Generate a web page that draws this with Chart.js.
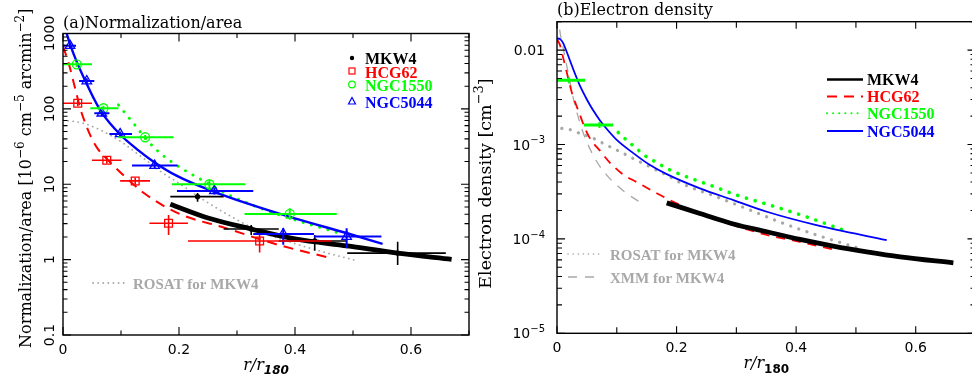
<!DOCTYPE html>
<html>
<head>
<meta charset="utf-8">
<script src="https://cdn.jsdelivr.net/npm/chart.js@4/dist/chart.umd.min.js"></script>
<style>
  html, body { margin: 0; padding: 0; background: #fff; }
  body { width: 972px; height: 383px; overflow: hidden; position: relative; }
  #cA { position: absolute; left: 0; top: 0; }
  #cB { position: absolute; left: 466px; top: 0; }
</style>
</head>
<body>
<canvas id="cA" width="486" height="383"></canvas>
<canvas id="cB" width="520" height="383"></canvas>
<script>
// ===================== DATA =====================
// ---- Panel (a): Normalization / area ----
const aXTicks = [0, 0.2, 0.4, 0.6];
const aXTickLabels = ['0', '0.2', '0.4', '0.6'];
const aYTicks = [0.1, 1, 10, 100, 1000];
const aYTickLabels = ['0.1', '1', '10', '100', '1000'];

// rows: [r/r180, value, rLow, rHigh, valueLow, valueHigh]
const mkw4PointsA = [
  [0.232, 6.85, 0.185, 0.277, 5.88, 7.67],
  [0.3245, 2.55, 0.277, 0.372, 2.12, 2.88],
  [0.434, 1.77, 0.372, 0.49, 1.31, 2.12],
  [0.577, 1.22, 0.49, 0.66, 0.85, 1.73]
];
const hcg62PointsA = [
  [0.0254, 118.6, 0, 0.05, 108, 130],
  [0.0755, 20.8, 0.05, 0.101, 18.8, 23],
  [0.1245, 11.07, 0.0985, 0.15, 10.0, 12.2],
  [0.182, 3.04, 0.149, 0.2155, 2.12, 3.92],
  [0.339, 1.77, 0.2155, 0.463, 1.24, 2.12]
];
const ngc1550PointsA = [
  [0.0237, 390, 0, 0.05, 360, 420],
  [0.0697, 102, 0.047, 0.0956, 95, 110],
  [0.1417, 42, 0.0956, 0.1907, 39, 45],
  [0.2524, 10, 0.188, 0.3146, 8.4, 11.4],
  [0.391, 4.04, 0.313, 0.472, 3.37, 4.8]
];
const ngc5044PointsA = [
  [0.0121, 689, 0, 0.0225, 640, 740],
  [0.041, 234, 0.0277, 0.054, 215, 255],
  [0.0669, 87.5, 0.054, 0.08, 80, 95],
  [0.0985, 46.5, 0.08, 0.119, 43, 50],
  [0.158, 17.7, 0.119, 0.1976, 16.3, 19.2],
  [0.261, 8.15, 0.1965, 0.328, 7.3, 9.0],
  [0.3797, 2.19, 0.328, 0.4327, 1.57, 2.61],
  [0.489, 2.02, 0.4327, 0.549, 1.42, 2.61]
];
// model curves: [r/r180, value]
const mkw4CurveA = [[0.185, 5.43], [0.25, 3.57], [0.3245, 2.55], [0.4, 1.88], [0.49, 1.52], [0.577, 1.22], [0.67, 1.01]];
const hcg62CurveA = [[0, 676], [0.01, 398], [0.02, 200], [0.03, 100], [0.04, 60.3], [0.05, 39.8], [0.06, 29.5], [0.08, 20.0], [0.10, 14.1], [0.14, 7.6], [0.20, 4.07], [0.28, 2.63], [0.37, 1.58], [0.4615, 1.05]];
const ngc1550CurveA = [[0.0956, 112.7], [0.1215, 64.4], [0.1447, 38.7], [0.1677, 25.8], [0.1907, 19.0], [0.2138, 14.7], [0.2368, 11.7], [0.283, 7.4], [0.3405, 4.8], [0.398, 3.4], [0.456, 2.5], [0.476, 2.24]];
const ngc5044CurveA = [[0.0064, 1000], [0.0121, 724], [0.025, 398], [0.041, 214], [0.053, 138], [0.0669, 89], [0.0985, 45.7], [0.13, 28.2], [0.158, 19.5], [0.1965, 12.9], [0.254, 8.3], [0.3175, 5.56], [0.398, 3.55], [0.49, 2.24], [0.551, 1.62]];
const rosatCurveA = [[0, 71], [0.035, 64.4], [0.058, 55.3], [0.081, 45], [0.104, 35], [0.127, 25.8], [0.15, 19], [0.168, 14.8], [0.1965, 10.7], [0.2368, 6.6], [0.283, 4.0], [0.3405, 2.35], [0.398, 1.65], [0.456, 1.22], [0.502, 0.99]];

// ---- Panel (b): Electron density ----
const bXTicks = [0, 0.2, 0.4, 0.6];
const bXTickLabels = ['0', '0.2', '0.4', '0.6'];
const bYTicks = [1e-5, 1e-4, 1e-3, 1e-2];
const bYTickLabels = [['10', '−5'], ['10', '−4'], ['10', '−3'], ['0.01', '']];

const mkw4CurveB = [[0.1835, 2.41e-4], [0.239, 1.86e-4], [0.295, 1.44e-4], [0.351, 1.19e-4], [0.4065, 9.88e-5], [0.462, 8.4e-5], [0.518, 7.3e-5], [0.574, 6.46e-5], [0.663, 5.58e-5]];
const hcg62CurveB = [[0, 0.0130], [0.005, 0.0113], [0.0105, 8.2e-3], [0.0189, 5.0e-3], [0.0245, 3.6e-3], [0.0301, 2.83e-3], [0.0385, 2.05e-3], [0.0469, 1.48e-3], [0.0552, 1.16e-3], [0.0719, 8.6e-4], [0.0887, 6.4e-4], [0.111, 4.8e-4], [0.1333, 4.0e-4], [0.1668, 3.05e-4], [0.1946, 2.47e-4], [0.239, 1.86e-4], [0.295, 1.40e-4], [0.351, 1.10e-4], [0.4065, 9.3e-5], [0.462, 7.74e-5]];
const ngc1550CurveB = [[0.1025, 1.34e-3], [0.1166, 1.11e-3], [0.1276, 9.7e-4], [0.15, 7.4e-4], [0.1639, 6.6e-4], [0.1835, 5.6e-4], [0.2002, 5.0e-4], [0.256, 3.71e-4], [0.3006, 2.91e-4], [0.356, 2.28e-4], [0.4177, 1.71e-4], [0.476, 1.26e-4]];
const ngc5044CurveB = [[0, 0.0133], [0.005, 0.0131], [0.0105, 0.0118], [0.0162, 9.6e-3], [0.0217, 7.76e-3], [0.0301, 5.62e-3], [0.0385, 4.17e-3], [0.0497, 3.02e-3], [0.0607, 2.29e-3], [0.0719, 1.80e-3], [0.0858, 1.40e-3], [0.0999, 1.12e-3], [0.1276, 8.1e-4], [0.1556, 6.05e-4], [0.1835, 4.85e-4], [0.239, 3.43e-4], [0.295, 2.58e-4], [0.351, 1.94e-4], [0.434, 1.40e-4], [0.5515, 9.7e-5]];
const rosatCurveB = [[0.008, 1.48e-3], [0.0217, 1.44e-3], [0.0385, 1.31e-3], [0.0552, 1.21e-3], [0.0719, 1.07e-3], [0.0887, 9.46e-4], [0.1054, 8.4e-4], [0.1276, 7.1e-4], [0.1556, 5.8e-4], [0.1835, 4.74e-4], [0.2113, 3.8e-4], [0.267, 2.79e-4], [0.323, 2.02e-4], [0.3786, 1.46e-4], [0.434, 1.10e-4], [0.501, 8.1e-5]];
const xmmCurveB = [[0.001, 0.025], [0.005, 0.0156], [0.0105, 0.0104], [0.0162, 6.9e-3], [0.0217, 4.6e-3], [0.0273, 3.08e-3], [0.033, 2.22e-3], [0.0413, 1.48e-3], [0.0497, 1.07e-3], [0.0664, 6.6e-4], [0.0831, 4.74e-4], [0.0999, 3.72e-4], [0.1166, 3.03e-4], [0.1472, 2.28e-4]];
// NGC1550 deprojected bins: [r/r180, density, rLow, rHigh]
const ngc1550BinsB = [[0.02, 4.8e-3, 0, 0.047], [0.071, 1.61e-3, 0.045, 0.094]];

// ===================== HELPERS =====================
const SANS = 'DejaVu Sans', SERIF = 'DejaVu Serif', LEG = 'Liberation Serif';
const xy = rows => rows.map(r => ({ x: r[0], y: r[1] }));
const errs = rows => rows.map(r => [r[2], r[3], r[4] ?? null, r[5] ?? null]);

function partFont(p, size, family, style) {
  const s = (p.sup || p.sub) ? Math.round(size * 0.72) : size;
  return `${p.style || style} ${s}px ${p.family || family}`;
}
function drawRich(ctx, parts, x, y, size, family, style, align) {
  let w = 0;
  for (const p of parts) { ctx.font = partFont(p, size, family, style); w += ctx.measureText(p.t).width; }
  let cx = align === 'center' ? x - w / 2 : align === 'right' ? x - w : x;
  ctx.textAlign = 'left'; ctx.textBaseline = 'alphabetic';
  for (const p of parts) {
    ctx.font = partFont(p, size, family, style);
    const dy = p.sup ? -size * 0.45 : p.sub ? size * 0.28 : 0;
    ctx.fillText(p.t, cx, y + dy);
    cx += ctx.measureText(p.t).width;
  }
}

const errorBarsPlugin = {
  id: 'errorBars',
  afterDatasetsDraw(chart) {
    const { ctx, scales: { x, y } } = chart;
    chart.data.datasets.forEach((ds, i) => {
      if (!ds.errorBars || !chart.isDatasetVisible(i)) return;
      ctx.save();
      ctx.strokeStyle = ds.errorColor || ds.borderColor;
      ctx.lineWidth = ds.errorWidth || 1.5;
      ctx.beginPath();
      ds.errorBars.forEach((e, j) => {
        const p = ds.data[j];
        const px = x.getPixelForValue(p.x), py = y.getPixelForValue(p.y);
        if (e[0] != null) { ctx.moveTo(x.getPixelForValue(e[0]), py); ctx.lineTo(x.getPixelForValue(e[1]), py); }
        if (e[2] != null) { ctx.moveTo(px, y.getPixelForValue(e[2])); ctx.lineTo(px, y.getPixelForValue(e[3])); }
      });
      ctx.stroke();
      ctx.restore();
    });
  }
};

function drawFrame(chart, o) {
  const { ctx, chartArea: a, scales: { x, y } } = chart;
  ctx.save();
  ctx.strokeStyle = '#000';
  ctx.lineWidth = 1.4;
  ctx.strokeRect(a.left, a.top, a.right - a.left, a.bottom - a.top);
  ctx.lineWidth = 1.1;
  ctx.beginPath();
  const nx = Math.round(x.max / 0.1);
  for (let i = 0; i <= nx; i++) {
    const px = x.getPixelForValue(i * 0.1);
    const L = (i % 2 === 0) ? o.majX : o.minX;
    ctx.moveTo(px, a.bottom); ctx.lineTo(px, a.bottom - L);
    ctx.moveTo(px, a.top); ctx.lineTo(px, a.top + L);
  }
  const d0 = Math.floor(Math.log10(y.min)), d1 = Math.ceil(Math.log10(y.max));
  for (let d = d0; d <= d1; d++) {
    for (let m = 1; m <= 9; m++) {
      const v = m * Math.pow(10, d);
      if (v < y.min * 0.999 || v > y.max * 1.001) continue;
      const py = y.getPixelForValue(v);
      const L = m === 1 ? o.majY : o.minY;
      ctx.moveTo(a.left, py); ctx.lineTo(a.left + L, py);
      ctx.moveTo(a.right, py); ctx.lineTo(a.right - L, py);
    }
  }
  ctx.stroke();
  ctx.restore();
}

function legendLine(ctx, x0, x1, y, color, width, dash, cap) {
  ctx.save();
  ctx.strokeStyle = color; ctx.lineWidth = width; ctx.setLineDash(dash || []);
  ctx.lineCap = cap || 'butt';
  ctx.beginPath(); ctx.moveTo(x0, y); ctx.lineTo(x1, y); ctx.stroke();
  ctx.restore();
}

// ===================== PANEL A =====================
const panelAPlugin = {
  id: 'panelA',
  afterDraw(chart) {
    const { ctx, chartArea: a, scales: { x, y } } = chart;
    drawFrame(chart, { majX: 8, minX: 4.5, majY: 8, minY: 4.5 });
    ctx.save();
    ctx.fillStyle = '#000';
    ctx.font = `14px ${SANS}`; ctx.textAlign = 'center'; ctx.textBaseline = 'alphabetic';
    aXTicks.forEach((v, i) => ctx.fillText(aXTickLabels[i], x.getPixelForValue(v), a.bottom + 19));
    aYTicks.forEach((v, i) => {
      ctx.save();
      ctx.translate(a.left - 13, y.getPixelForValue(v));
      ctx.rotate(-Math.PI / 2);
      ctx.textAlign = 'center'; ctx.textBaseline = 'middle';
      ctx.fillText(aYTickLabels[i], 0, 0);
      ctx.restore();
    });
    drawRich(ctx, [{ t: 'r/r', style: 'italic' }, { t: '180', sub: true, style: 'italic bold', family: SANS }],
      (a.left + a.right) / 2, a.bottom + 35, 16, SERIF, 'normal', 'center');
    ctx.save();
    ctx.translate(31, (a.top + a.bottom) / 2 - 6);
    ctx.rotate(-Math.PI / 2);
    drawRich(ctx, [{ t: 'Normalization/area [10' }, { t: '−6', sup: true }, { t: ' cm' }, { t: '−5', sup: true },
      { t: ' arcmin' }, { t: '−2', sup: true }, { t: ']' }], 0, 0, 16, SERIF, 'normal', 'center');
    ctx.restore();
    ctx.font = `16px ${SERIF}`; ctx.textAlign = 'left'; ctx.textBaseline = 'alphabetic';
    ctx.fillText('(a)Normalization/area', a.left, 28);

    // legend
    const lx = 352, tx = 365;
    ctx.font = `bold 16px ${LEG}`;
    ctx.fillStyle = '#000'; ctx.beginPath(); ctx.arc(lx, 58, 2.2, 0, 2 * Math.PI); ctx.fill();
    ctx.fillText('MKW4', tx, 64);
    ctx.strokeStyle = '#f00'; ctx.lineWidth = 1.2; ctx.strokeRect(lx - 3, 68, 6, 6);
    ctx.fillStyle = '#f00'; ctx.fillText('HCG62', tx, 77.5);
    ctx.strokeStyle = '#00ff00'; ctx.beginPath(); ctx.arc(lx, 84.5, 3.3, 0, 2 * Math.PI); ctx.stroke();
    ctx.fillStyle = '#00ff00'; ctx.fillText('NGC1550', tx, 91);
    ctx.strokeStyle = '#00f'; ctx.beginPath(); ctx.moveTo(lx - 3.5, 104); ctx.lineTo(lx + 3.5, 104); ctx.lineTo(lx, 97.5); ctx.closePath(); ctx.stroke();
    ctx.fillStyle = '#00f'; ctx.fillText('NGC5044', tx, 107.5);
    legendLine(ctx, 93, 126, 283, '#a8a8a8', 1.8, [0.1, 5], 'round');
    ctx.font = `bold 15px ${LEG}`;
    ctx.fillStyle = '#a8a8a8'; ctx.fillText('ROSAT for MKW4', 133, 288.5);
    ctx.restore();
  }
};

const common = {
  responsive: false, animation: false, devicePixelRatio: 1,
  plugins: { legend: { display: false }, tooltip: { enabled: false } }
};

function curveDS(rows, color, width, dash, cap) {
  return { type: 'line', data: xy(rows), borderColor: color, borderWidth: width, borderDash: dash || [],
    borderCapStyle: cap || 'butt', pointRadius: 0, fill: false, showLine: true, cubicInterpolationMode: 'monotone' };
}
function pointDS(rows, color, style, radius, fillColor, errWidth) {
  return { type: 'scatter', data: xy(rows), errorBars: errs(rows), borderColor: color, backgroundColor: fillColor || 'rgba(0,0,0,0)',
    pointStyle: style, pointRadius: radius, pointBorderWidth: 1.3, errorWidth: errWidth || 1.6, showLine: false };
}

new Chart(document.getElementById('cA'), {
  type: 'scatter',
  data: {
    datasets: [
      curveDS(mkw4CurveA, '#000', 4.8),
      pointDS(mkw4PointsA, '#000', 'circle', 2, '#000', 1.6),
      pointDS(ngc5044PointsA, '#0000ff', 'triangle', 5.5, null, 2),
      pointDS(hcg62PointsA, '#ff0000', 'rect', 5.5, null, 1.6),
      pointDS(ngc1550PointsA, '#00ff00', 'circle', 4.5, null, 2),
      curveDS(ngc5044CurveA, '#0000ff', 2.4),
      curveDS(hcg62CurveA, '#ff0000', 2, [10, 7]),
      curveDS(ngc1550CurveA, '#00ff00', 3, [0.1, 8.5], 'round'),
      curveDS(rosatCurveA, '#a8a8a8', 1.8, [0.1, 5], 'round')
    ]
  },
  options: Object.assign({}, common, {
    layout: { padding: { left: 63, right: 17, top: 33.5, bottom: 48 } },
    scales: {
      x: { type: 'linear', min: 0, max: 0.7, display: false },
      y: { type: 'logarithmic', min: 0.1, max: 1000, display: false }
    }
  }),
  plugins: [errorBarsPlugin, panelAPlugin]
});

// ===================== PANEL B =====================
const panelBPlugin = {
  id: 'panelB',
  afterDraw(chart) {
    const { ctx, chartArea: a, scales: { x, y } } = chart;
    drawFrame(chart, { majX: 7, minX: 6, majY: 8, minY: 5 });
    ctx.save();
    ctx.fillStyle = '#000';
    ctx.font = `14px ${SANS}`; ctx.textAlign = 'center'; ctx.textBaseline = 'alphabetic';
    bXTicks.forEach((v, i) => ctx.fillText(bXTickLabels[i], x.getPixelForValue(v), a.bottom + 19));
    bYTicks.forEach((v, i) => {
      const py = y.getPixelForValue(v);
      const lab = bYTickLabels[i];
      const parts = lab[1] ? [{ t: lab[0] }, { t: lab[1], sup: true }] : [{ t: lab[0] }];
      drawRich(ctx, parts, a.left - 12, py + 5, 14, SANS, 'normal', 'right');
    });
    drawRich(ctx, [{ t: 'r/r', style: 'italic' }, { t: '180', sub: true, style: 'bold', family: SANS }],
      (a.left + a.right) / 2, a.bottom + 35, 16, SERIF, 'normal', 'center');
    ctx.save();
    ctx.translate(25, (a.top + a.bottom) / 2 + 6);
    ctx.rotate(-Math.PI / 2);
    drawRich(ctx, [{ t: 'Electron density [cm' }, { t: '−3', sup: true }, { t: ']' }], 0, 0, 17.5, SERIF, 'normal', 'center');
    ctx.restore();
    ctx.font = `16px ${SERIF}`; ctx.textAlign = 'left'; ctx.textBaseline = 'alphabetic';
    ctx.fillText('(b)Electron density', a.left, 15);
    // legend
    const l0 = 361, l1 = 397, tx = 401;
    ctx.font = `bold 16px ${LEG}`;
    legendLine(ctx, l0, l1, 79.5, '#000', 2.6);
    ctx.fillStyle = '#000'; ctx.fillText('MKW4', tx, 85);
    legendLine(ctx, l0, l1, 96.5, '#ff0000', 1.8, [10, 7]);
    ctx.fillStyle = '#ff0000'; ctx.fillText('HCG62', tx, 101.5);
    legendLine(ctx, l0, l1, 113.3, '#00ff00', 2, [0.1, 6], 'round');
    ctx.fillStyle = '#00ff00'; ctx.fillText('NGC1550', tx, 118.5);
    legendLine(ctx, l0, l1, 131, '#0000ff', 1.8);
    ctx.fillStyle = '#0000ff'; ctx.fillText('NGC5044', tx, 136.5);
    ctx.font = `bold 15px ${LEG}`;
    legendLine(ctx, 102, 137, 254, '#a8a8a8', 1.6, [0.1, 5], 'round');
    ctx.fillStyle = '#a8a8a8'; ctx.fillText('ROSAT for MKW4', 144, 260);
    legendLine(ctx, 102, 130, 277, '#a8a8a8', 1.3, [9, 8]);
    ctx.fillText('XMM for MKW4', 144, 283);
    ctx.restore();
  }
};

new Chart(document.getElementById('cB'), {
  type: 'scatter',
  data: {
    datasets: [
      curveDS(mkw4CurveB, '#000', 4.8),
      { type: 'scatter', data: xy(ngc1550BinsB), errorBars: errs(ngc1550BinsB), borderColor: '#00ff00',
        backgroundColor: '#00ff00', pointStyle: 'line', rotation: 90, pointRadius: 3, pointBorderWidth: 2, errorWidth: 3, showLine: false },
      curveDS(ngc5044CurveB, '#0000ff', 1.8),
      curveDS(hcg62CurveB, '#ff0000', 1.8, [9, 7]),
      curveDS(ngc1550CurveB, '#00ff00', 3.6, [0.1, 9], 'round'),
      curveDS(rosatCurveB, '#a8a8a8', 3.2, [0.1, 8.5], 'round'),
      curveDS(xmmCurveB, '#a8a8a8', 1.3, [9, 8])
    ]
  },
  options: Object.assign({}, common, {
    layout: { padding: { left: 91, right: 10.5, top: 21.7, bottom: 49.7 } },
    scales: {
      x: { type: 'linear', min: 0, max: 0.7, display: false },
      y: { type: 'logarithmic', min: 1e-5, max: 0.02, display: false }
    }
  }),
  plugins: [errorBarsPlugin, panelBPlugin]
});
</script>
</body>
</html>
